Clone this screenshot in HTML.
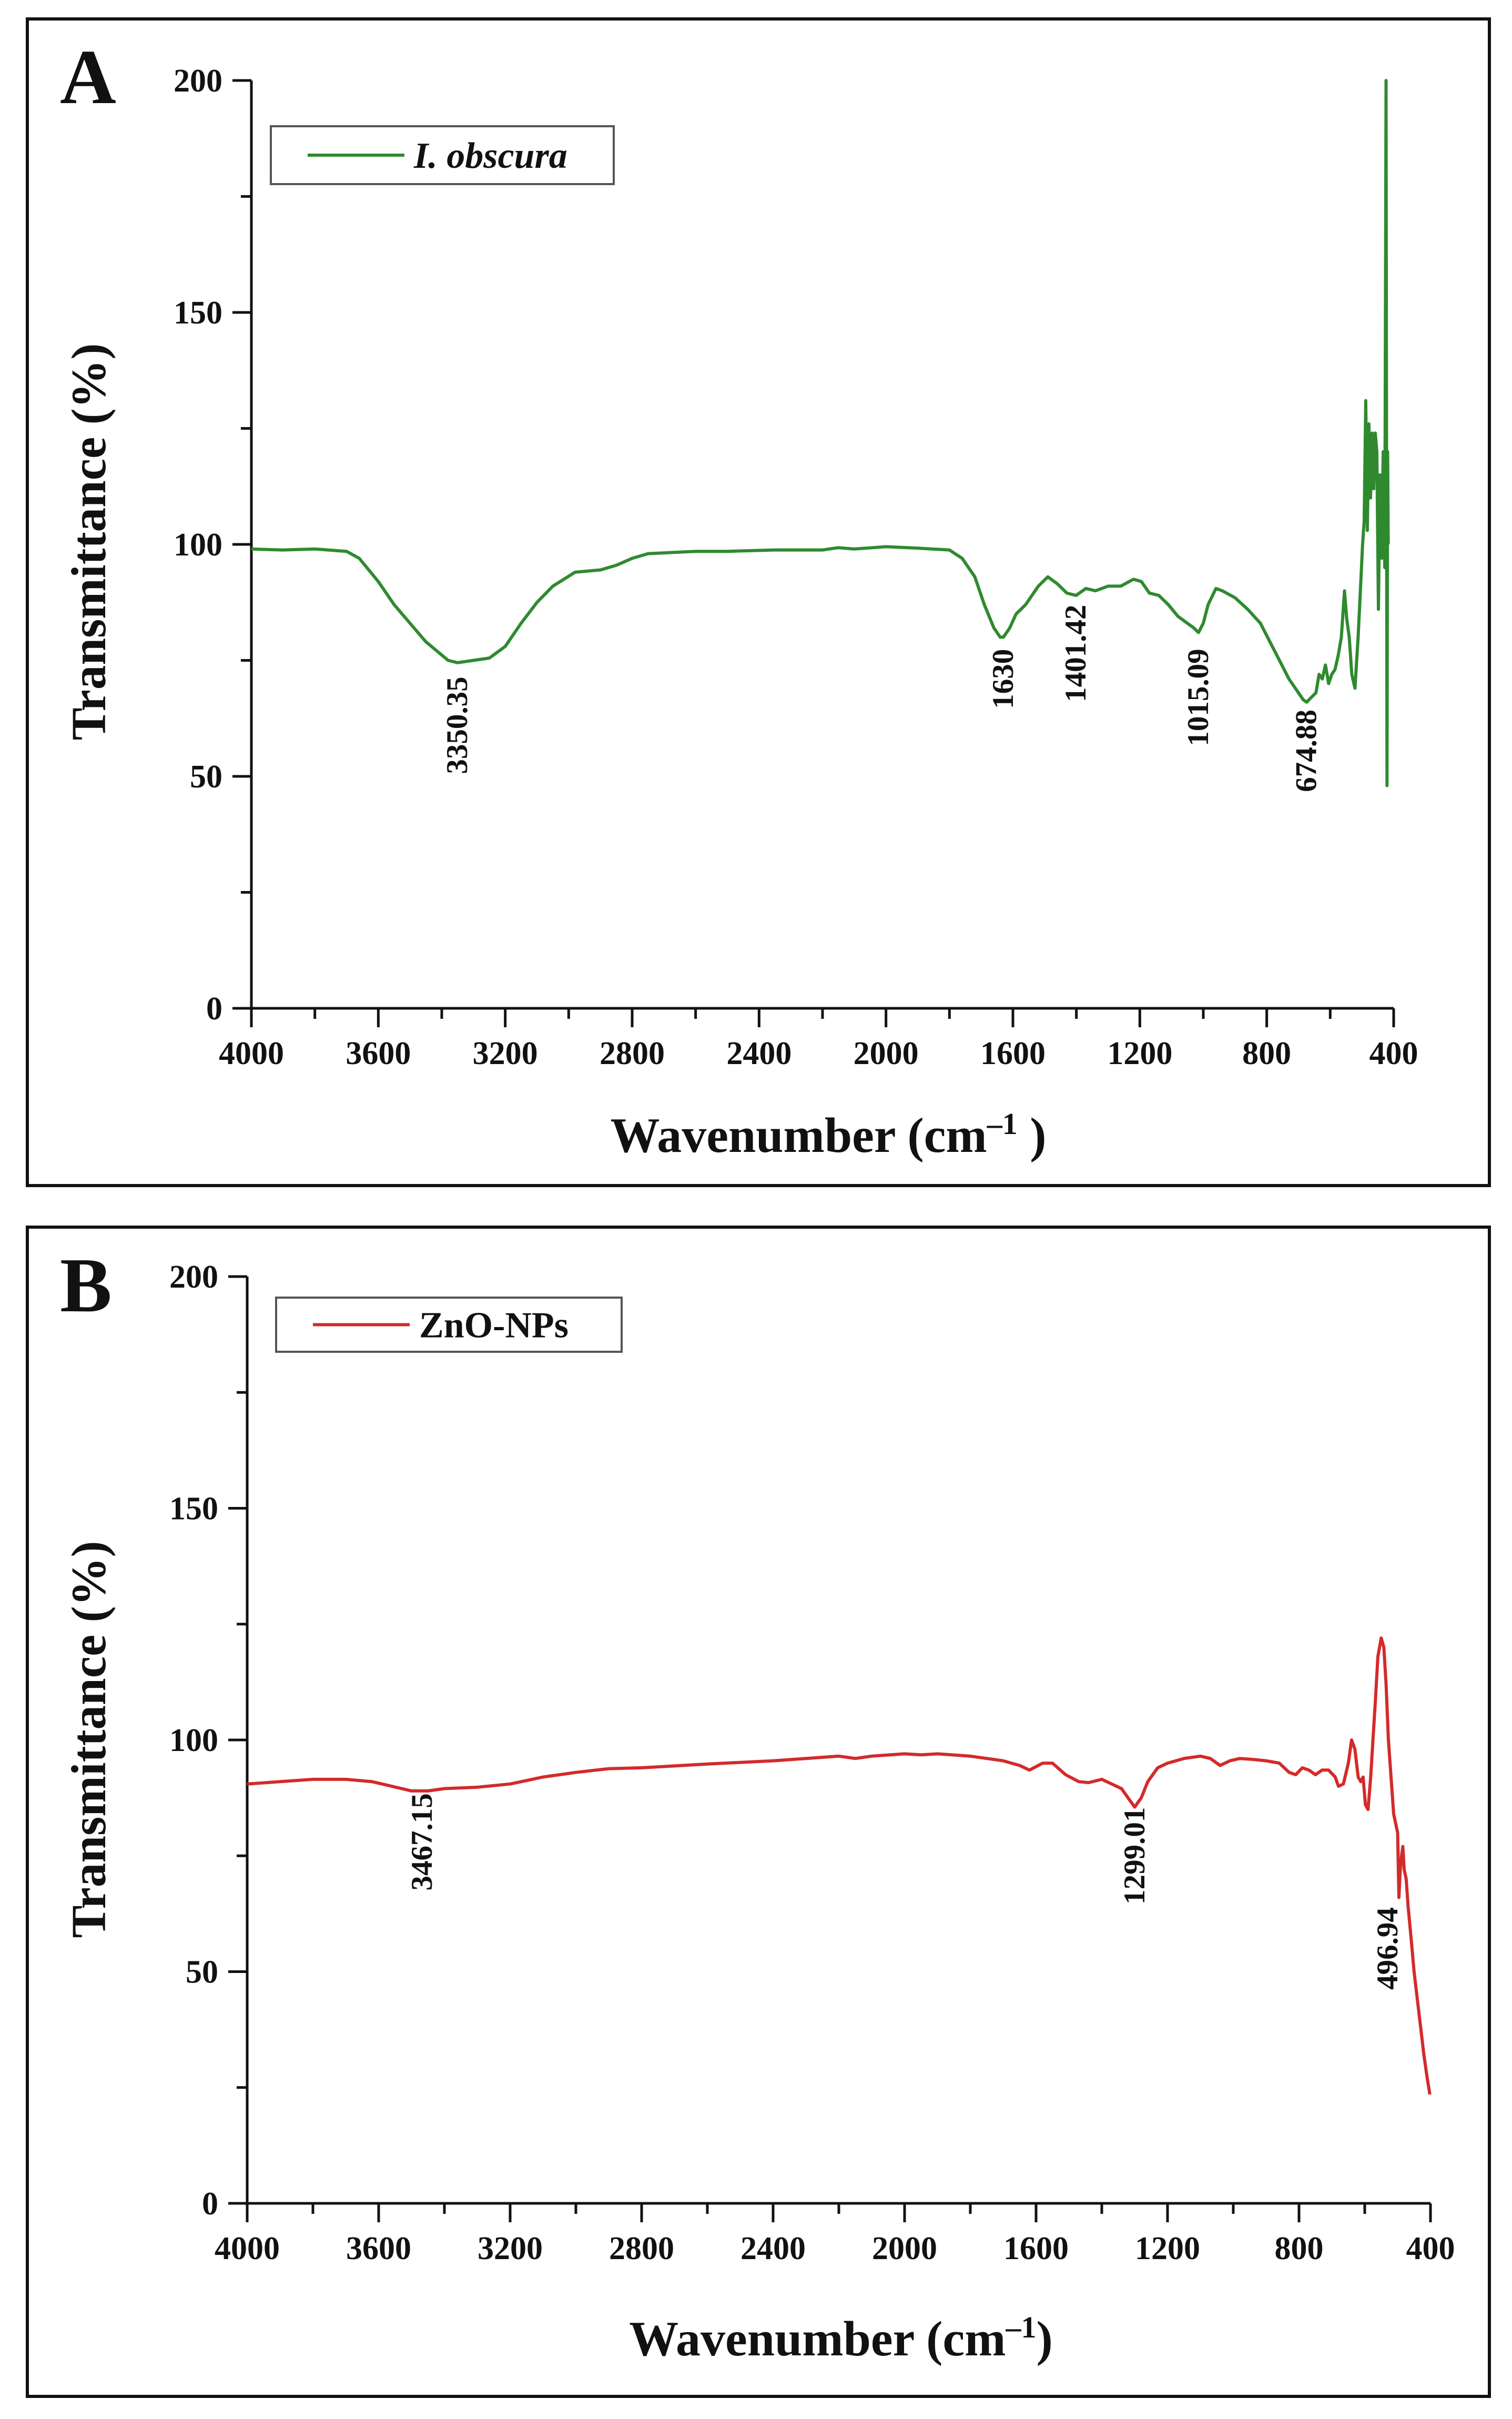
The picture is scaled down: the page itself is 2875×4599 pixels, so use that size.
<!DOCTYPE html>
<html><head><meta charset="utf-8"><style>
html,body{margin:0;padding:0;background:#fff}
svg{display:block}
text{font-family:"Liberation Serif",serif;font-weight:bold;fill:#111}
</style></head><body>
<svg id="chart" width="2875" height="4599" viewBox="0 0 2875 4599" xmlns="http://www.w3.org/2000/svg"></svg>
<script>
const xTicks=[4000,3600,3200,2800,2400,2000,1600,1200,800,400];
const yTicks=[0,50,100,150,200];
const waveA=[4000,3900,3800,3700,3660,3600,3550,3450,3380,3350,3300,3250,3200,3150,3100,3050,2980,2900,2850,2800,2750,2600,2500,2350,2200,2150,2100,2000,1900,1800,1760,1720,1690,1660,1640,1630,1610,1590,1560,1520,1490,1460,1430,1401,1370,1340,1300,1260,1220,1195,1170,1140,1110,1080,1050,1030,1015,1000,985,960,940,900,860,820,790,760,730,700,685,674,660,645,635,625,615,605,595,585,575,565,555,548,540,532,522,512,505,498,493,488,483,478,473,468,463,458,453,448,443,438,433,428,424,421,419,417,415];
const valA=[99,98.8,99,98.5,97,92,87,79,75,74.5,75,75.5,78,83,87.5,91,94,94.5,95.5,97,98,98.5,98.5,98.8,98.8,99.3,99,99.5,99.2,98.8,97,93,87,82,80,80,82,85,87,91,93,91.5,89.5,89,90.5,90,91,91,92.5,92,89.5,89,87,84.5,83,82,81,83,87,90.5,90,88.5,86,83,79,75,71,68,66.5,66,67,68,72,71,74,70,72,73,76,80,90,84,80,72,69,80,90,100,105,131,103,126,110,124,112,124,120,86,115,97,120,95,200,48,120,100];
const waveB=[4000,3900,3800,3700,3620,3560,3500,3450,3400,3300,3200,3100,3000,2900,2800,2600,2400,2300,2200,2150,2100,2000,1950,1900,1800,1750,1700,1650,1620,1580,1550,1510,1470,1440,1400,1370,1340,1320,1300,1280,1260,1230,1200,1150,1100,1070,1040,1010,980,940,900,860,830,810,790,770,750,730,710,690,680,665,650,640,630,620,612,605,598,590,582,575,568,560,550,542,535,528,520,512,506,500,496,492,488,484,480,474,468,460,450,440,430,420,410,402];
const valB=[90.5,91,91.5,91.5,91,90,89,89,89.5,89.8,90.5,92,93,93.8,94,94.8,95.5,96,96.5,96,96.5,97,96.8,97,96.5,96,95.5,94.5,93.5,95,95,92.5,91,90.8,91.5,90.5,89.5,87.5,85.5,87.5,91,94,95,96,96.5,96,94.5,95.5,96,95.8,95.5,95,93,92.5,94,93.5,92.5,93.5,93.5,92,90,90.5,95,100,98,92,91,92,86,85,92,100,108,118,122,120,112,100,92,84,82,80,66,72,75,77,72,70,64,58,50,44,38,32,27,23.5];
const labelsA=["3350.35","1630","1401.42","1015.09","674.88"];
const labelPosA=[[3350,61],[1630,71],[1401,76.5],[1015,67],[674,55.5]];
const labelsB=["3467.15","1299.01","496.94"];
const labelPosB=[[3467,78],[1299,75],[530,55]];

const NS="http://www.w3.org/2000/svg";
const svg=document.getElementById('chart');
function mk(tag,attrs,parent,txt){const e=document.createElementNS(NS,tag);for(const k in attrs)e.setAttribute(k,attrs[k]);if(txt!==undefined)e.textContent=txt;(parent||svg).appendChild(e);return e;}

function panel(cfg){
  const g=mk('g',{});
  
  
  const border=mk('rect',{x:cfg.bx,y:cfg.by,width:cfg.bw,height:cfg.bh,fill:'none',stroke:'#111','stroke-width':6},g);
  
  
  const X=v=>cfg.L+(4000-v)/3600*(cfg.R-cfg.L);
  const Y=v=>cfg.B-v/200*(cfg.B-cfg.T);
  const letter=mk('text',{x:cfg.bx+62,y:cfg.by+160,'font-size':148},g,cfg.letter);
  
  
  const ax=mk('path',{d:`M${cfg.L},${cfg.T}V${cfg.B}H${cfg.R}`,fill:'none',stroke:'#111','stroke-width':5},g);
  
  
  for(let v=4000;v>=400;v-=200){
    const major=v%400===0;
    const t=mk('line',{x1:X(v),x2:X(v),y1:cfg.B,y2:cfg.B+(major?36:20),stroke:'#111','stroke-width':5},g);
    
    
  }
  xTicks.forEach(v=>{
    const t=mk('text',{x:X(v),y:cfg.B+106,'font-size':62,'text-anchor':'middle'},g,String(v));
    
    
  });
  for(let v=0;v<=200;v+=25){
    const major=v%50===0;
    const t=mk('line',{x1:cfg.L-(major?36:20),x2:cfg.L,y1:Y(v),y2:Y(v),stroke:'#111','stroke-width':5},g);
    
    
  }
  yTicks.forEach(v=>{
    const t=mk('text',{x:cfg.L-55,y:Y(v)+21,'font-size':62,'text-anchor':'end'},g,String(v));
    
    
  });
  const yt=mk('text',{x:0,y:0,'font-size':93,'text-anchor':'middle',transform:`translate(${cfg.ytx},${cfg.yty}) rotate(-90)`},g,'Transmittance (%)');
  
  
  const xt=mk('text',{x:cfg.xtx,y:cfg.xty,'font-size':94,'text-anchor':'middle'},g);
  
  
  mk('tspan',{},xt,'Wavenumber (cm');
  mk('tspan',{dy:-34,'font-size':58},xt,'\u20131');
  mk('tspan',{dy:34},xt,cfg.sp?' )':')');
  let d='';
  cfg.wave.forEach((w,i)=>{d+=(i?'L':'M')+X(w).toFixed(1)+','+Y(cfg.vals[i]).toFixed(1);});
  const line=mk('path',{d:d,fill:'none',stroke:cfg.color,'stroke-width':6,'stroke-linejoin':'round'},g);
  
  
  cfg.labels.forEach((s,i)=>{
    const p=cfg.lpos[i];
    const t=mk('text',{x:0,y:0,'font-size':57,'text-anchor':'middle',transform:`translate(${X(p[0])+18},${Y(p[1])}) rotate(-90)`},g,s);
    
    
  });
  const lg=mk('g',{},g);
  
  
  mk('rect',{x:cfg.lx,y:cfg.ly,width:cfg.lw,height:cfg.lh,fill:'#fff',stroke:'#555','stroke-width':4},lg);
  mk('line',{x1:cfg.lx+70,x2:cfg.lx+254,y1:cfg.ly+cfg.lh/2,y2:cfg.ly+cfg.lh/2,stroke:cfg.color,'stroke-width':6},lg);
  const lt=mk('text',{x:cfg.lx+272,y:cfg.ly+cfg.lh/2+24,'font-size':70,'font-style':cfg.italic?'italic':'normal'},lg,cfg.legend);
  
  
}
panel({name:'panel-a',letter:'A',bx:52,by:36,bw:2780,bh:2218,L:478,R:2650,T:153,B:1917,ytx:200,yty:1030,xtx:1575,xty:2190,sp:true,
  wave:waveA,vals:valA,color:'#2f8a2f',labels:labelsA,lpos:labelPosA,lx:515,ly:240,lw:652,lh:110,legend:'I. obscura',italic:true});
panel({name:'panel-b',letter:'B',bx:52,by:2333,bw:2780,bh:2223,L:470,R:2720,T:2427,B:4189,ytx:200,yty:3307,xtx:1599,xty:4478,sp:false,
  wave:waveB,vals:valB,color:'#d42a2a',labels:labelsB,lpos:labelPosB,lx:525,ly:2467,lw:657,lh:103,legend:'ZnO-NPs',italic:false});
</script>
</body></html>
